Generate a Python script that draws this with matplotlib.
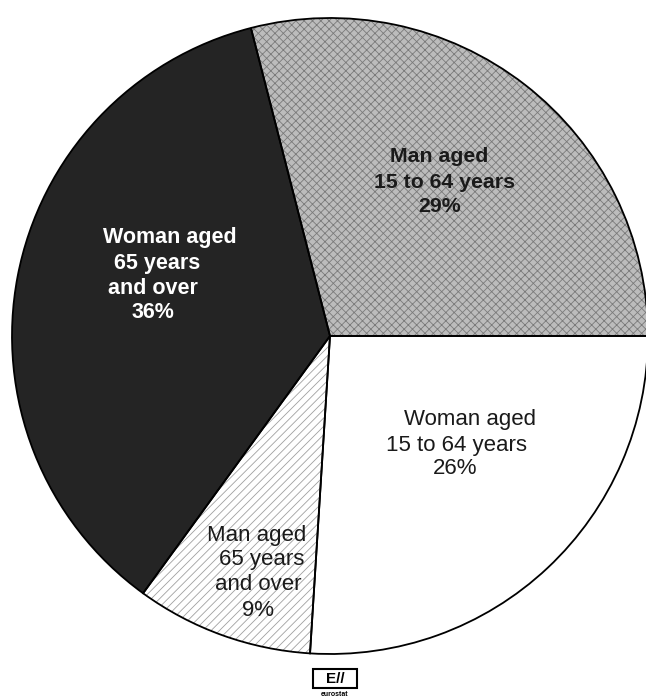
import matplotlib.pyplot as plt
from matplotlib.patches import Rectangle

plt.rcParams["font.family"] = ["Liberation Sans", "DejaVu Sans"]
plt.rcParams["hatch.linewidth"] = 0.6

# share of population by sex and age group (%)
groups = ["Man aged\n15 to 64 years", "Woman aged\n15 to 64 years",
          "Man aged\n65 years\nand over", "Woman aged\n65 years\nand over"]
shares = [29, 26, 9, 36]
fills = ["#bcbcbc", "#ffffff", "#ffffff", "#242424"]
hatches = ["xxxx", None, "////", None]
hatch_colors = ["#7a7a7a", "#ffffff", "#a0a0a0", "#242424"]

fig = plt.figure(figsize=(6.46, 6.98), dpi=100)
ax = fig.add_axes([0, 0, 1, 1])
ax.set_xlim(0, 646)
ax.set_ylim(698, 0)
ax.set_aspect("equal")
ax.axis("off")

cx, cy, r = 330, 336, 318
start = shares[0] * 3.6

# filled + hatched wedges (hatch colour comes from edgecolor)
wedges, _ = ax.pie(shares, center=(cx, cy), radius=r, startangle=-start,
                   counterclock=True, colors=fills,
                   wedgeprops=dict(linewidth=0))
for w, h, hc in zip(wedges, hatches, hatch_colors):
    if h:
        w.set_hatch(h)
        w.set_edgecolor(hc)
# black outlines
outl, _ = ax.pie(shares, center=(cx, cy), radius=r, startangle=-start,
                 counterclock=True,
                 wedgeprops=dict(fill=False, edgecolor="black", linewidth=1.3))
ax.set_xlim(0, 646)
ax.set_ylim(698, 0)

# label lines: (text, x centre, y centre)
label_lines = [
    [("Man aged", 439, 156), ("15 to 64 years", 445, 182), ("29%", 440, 207)],
    [("Woman aged", 470, 420), ("15 to 64 years", 456, 445), ("26%", 455, 469)],
    [("Man aged", 257, 535), ("65 years", 262, 560), ("and over", 258, 585), ("9%", 258, 610)],
    [("Woman aged", 170, 238), ("65 years", 157, 263), ("and over", 153, 288), ("36%", 153, 313)],
]
label_colors = ["#1a1a1a", "#1a1a1a", "#1a1a1a", "white"]
label_weights = ["bold", "normal", "normal", "bold"]
label_sizes = [15.3, 16, 16, 15.5]
for lines, col, wt, fs in zip(label_lines, label_colors, label_weights, label_sizes):
    for txt, x, y in lines:
        ax.text(x, y, txt, ha="center", va="center", fontsize=fs,
                color=col, fontweight=wt)

# eurostat logo
ax.add_patch(Rectangle((313, 669), 44, 19, fill=False, edgecolor="black", linewidth=1.5))
ax.text(335, 679, "E//", ha="center", va="center", fontsize=11,
        fontweight="bold", color="black")
ax.text(335, 694, "eurostat", ha="center", va="center", fontsize=5,
        fontweight="bold", color="black")

fig.savefig("out.png", dpi=100, facecolor="white")
